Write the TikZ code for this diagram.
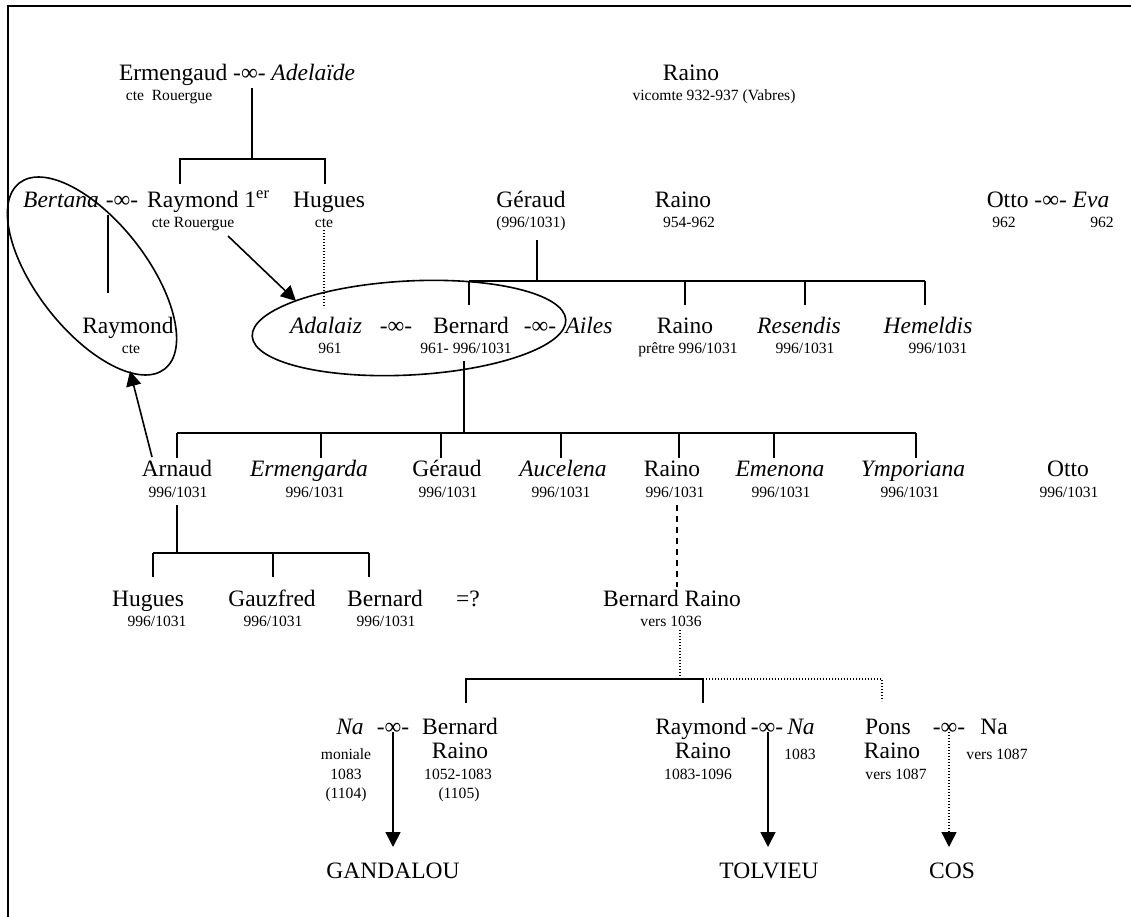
\documentclass[tikz,border=0pt]{standalone}
\usepackage{fontspec}
\setmainfont{Liberation Serif}
\usetikzlibrary{arrows.meta}
\newcommand\bigtxt{\fontsize{23.5}{28}\selectfont}
\newcommand\smalltxt{\fontsize{15.6}{18}\selectfont}
\newcommand\wed{-∞-}
\begin{document}
\begin{tikzpicture}[x=1pt,y=-1pt,
  person/.style={font=\bigtxt,inner sep=0pt,anchor=base},
  info/.style={font=\smalltxt,inner sep=0pt,anchor=base},
  tree/.style={line width=1.6pt},
  dots/.style={line width=1.3pt,dash pattern=on 1.3pt off 1.7pt},
  dashes/.style={line width=1.5pt,dash pattern=on 6pt off 5pt},
  ring/.style={line width=1.6pt},
  tip/.style={-{Triangle[length=15pt,width=15pt]}}]
\useasboundingbox (0,0) rectangle (1131,917);
% frame
\draw[line width=2pt] (8,917) -- (8,6) -- (1131,6);

% ---------- first generation ----------
\node[person] (ermen) at (237,81) {Ermengaud \wed{} \textit{Adelaïde}};
\node[info] (ermenI) at (169,101) {cte~~Rouergue};
\node[person] (rainoA) at (691,81) {Raino};
\node[info] (rainoAI) at (714,101) {vicomte 932-937 (Vabres)};

% ---------- second generation ----------
\node[person] (bertana) at (61,208) {\textit{Bertana}};
\node[person] (wedB) at (122,208) {\wed};
\node[person,anchor=base west] (raym1) at (147,208) {Raymond 1\textsuperscript{er}};
\node[info] (raym1I) at (193,228) {cte Rouergue};
\node[person] (huguesA) at (329,208) {Hugues};
\node[info] (huguesAI) at (324,228) {cte};
\node[person] (geraudA) at (531,208) {Géraud};
\node[info] (geraudAI) at (531,228) {(996/1031)};
\node[person] (rainoB) at (683,208) {Raino};
\node[info] (rainoBI) at (689,228) {954-962};
\node[person] (otto) at (1048,208) {Otto \wed{} \textit{Eva}};
\node[info] (ottoI) at (1004,228) {962};
\node[info] (evaI) at (1102,228) {962};

% ---------- third generation ----------
\node[person] (raymC) at (128,333) {Raymond};
\node[info] (raymCI) at (131,353) {cte};
\node[person] (adal) at (326,333) {\textit{Adalaiz}};
\node[info] (adalI) at (330,353) {961};
\node[person] (wedC1) at (396,333) {\wed};
\node[person] (bern) at (471,333) {Bernard};
\node[info] (bernI) at (466,353) {961- 996/1031};
\node[person] (wedC2) at (540,333) {\wed};
\node[person] (ailes) at (589,333) {\textit{Ailes}};
\node[person] (rainoC) at (685,333) {Raino};
\node[info] (rainoCI) at (688,353) {prêtre 996/1031};
\node[person] (resendis) at (799,333) {\textit{Resendis}};
\node[info] (resendisI) at (805,353) {996/1031};
\node[person] (hemeldis) at (928,333) {\textit{Hemeldis}};
\node[info] (hemeldisI) at (938,353) {996/1031};

% ---------- fourth generation ----------
\node[person] (arnaud) at (177,476) {Arnaud};
\node[info] (arnaudI) at (178,497) {996/1031};
\node[person] (ermengarda) at (309,476) {\textit{Ermengarda}};
\node[info] (ermengardaI) at (315,497) {996/1031};
\node[person] (geraudD) at (447,476) {Géraud};
\node[info] (geraudDI) at (448,497) {996/1031};
\node[person] (aucelena) at (563,476) {\textit{Aucelena}};
\node[info] (aucelenaI) at (561,497) {996/1031};
\node[person] (rainoD) at (672,476) {Raino};
\node[info] (rainoDI) at (675,497) {996/1031};
\node[person] (emenona) at (780,476) {\textit{Emenona}};
\node[info] (emenonaI) at (781,497) {996/1031};
\node[person] (ymporiana) at (913,476) {\textit{Ymporiana}};
\node[info] (ymporianaI) at (910,497) {996/1031};
\node[person] (ottoD) at (1068,476) {Otto};
\node[info] (ottoDI) at (1069,497) {996/1031};

% ---------- fifth generation ----------
\node[person] (huguesE) at (148,606) {Hugues};
\node[info] (huguesEI) at (157,626) {996/1031};
\node[person] (gauzfred) at (272,606) {Gauzfred};
\node[info] (gauzfredI) at (273,626) {996/1031};
\node[person] (bernE) at (385,606) {Bernard};
\node[info] (bernEI) at (386,626) {996/1031};
\node[person] (query) at (468,606) {=?};
\node[person] (bRaino) at (672,606) {Bernard Raino};
\node[info] (bRainoI) at (671,626) {vers 1036};

% ---------- sixth generation ----------
\node[person] (na1) at (350,734) {\textit{Na}};
\node[info] (na1a) at (346,759) {moniale};
\node[info] (na1b) at (346,779) {1083};
\node[info] (na1c) at (346,798) {(1104)};
\node[person] (wedE1) at (393,734) {\wed};
\node[person] (bernF) at (460,734) {Bernard};
\node[person] (bernF2) at (460,758) {Raino};
\node[info] (bernFa) at (458,779) {1052-1083};
\node[info] (bernFb) at (459,798) {(1105)};
\node[person] (raymF) at (701,734) {Raymond};
\node[person] (raymF2) at (703,758) {Raino};
\node[info] (raymFa) at (698,779) {1083-1096};
\node[person] (wedE2) at (767,734) {\wed};
\node[person] (na2) at (801,734) {\textit{Na}};
\node[info] (na2a) at (800,759) {1083};
\node[person] (pons) at (888,734) {Pons};
\node[person] (pons2) at (892,758) {Raino};
\node[info] (ponsa) at (896,779) {vers 1087};
\node[person] (wedE3) at (949,734) {\wed};
\node[person] (na3) at (994,734) {Na};
\node[info] (na3a) at (997,759) {vers 1087};

% ---------- lordships ----------
\node[person] (gandalou) at (393,878) {GANDALOU};
\node[person] (tolvieu) at (769,878) {TOLVIEU};
\node[person] (cos) at (952,878) {COS};

% ---------- junction points ----------
\coordinate (e0) at (252,88);
\coordinate (e1) at (252,159);
\coordinate (eL) at (180,159);
\coordinate (eR) at (325,159);
\coordinate (eLd) at (180,184);
\coordinate (eRd) at (325,184);
\coordinate (bt0) at (108,215);
\coordinate (bt1) at (108,293);
\coordinate (hg0) at (324,230);
\coordinate (hg1) at (324,308);
\coordinate (r1a) at (228,236);
\coordinate (r1b) at (296,301);
\coordinate (g0) at (537,240);
\coordinate (g1) at (537,281);
\coordinate (gL) at (469,281);
\coordinate (gR) at (925,281);
\coordinate (b0) at (464,361);
\coordinate (b1) at (464,433);
\coordinate (bL) at (177,433);
\coordinate (bR) at (916,433);
\coordinate (ar0) at (152,457);
\coordinate (ar1) at (130,371);
\coordinate (a0) at (177,505);
\coordinate (a1) at (177,553);
\coordinate (aL) at (153,553);
\coordinate (aR) at (369,553);
\coordinate (rd0) at (677,505);
\coordinate (rd1) at (677,587);
\coordinate (br0) at (680,630);
\coordinate (br1) at (680,679);
\coordinate (brL) at (466,679);
\coordinate (brM) at (703,679);
\coordinate (brR) at (882,679);
\coordinate (s1) at (393,732);
\coordinate (t1) at (393,847);
\coordinate (s2) at (768,732);
\coordinate (t2) at (768,847);
\coordinate (s3) at (949,732);
\coordinate (t3) at (949,847);

% ---------- marriage rings ----------
\draw[ring,rotate around={-52:(92,276)}] (92,276) ellipse [x radius=118,y radius=55];
\draw[ring,rotate around={3:(409,328)}] (409,328) ellipse [x radius=157,y radius=47];

% ---------- descent lines ----------
\draw[tree] (e0) -- (e1);
\draw[tree] (eLd) -- (eL) -- (eR) -- (eRd);
\draw[tree] (bt0) -- (bt1);
\draw[dots] (hg0) -- (hg1);
\draw[tree,tip] (r1a) -- (r1b);

\draw[tree] (g0) -- (g1);
\draw[tree] (gL) -- (gR);
\foreach \x in {469,685,805,925} \draw[tree] (\x,281) -- (\x,305);

\draw[tree] (b0) -- (b1);
\draw[tree] (bL) -- (bR);
\foreach \x in {177,321,441,561,679,774,916} \draw[tree] (\x,433) -- (\x,458);
\draw[tree,tip] (ar0) -- (ar1);

\draw[tree] (a0) -- (a1);
\draw[tree] (aL) -- (aR);
\foreach \x in {153,273,369} \draw[tree] (\x,553) -- (\x,577);

\draw[dashes] (rd0) -- (rd1);
\draw[dots] (br0) -- (br1);
\draw[tree] (brL |- 0,703) -- (brL) -- (brM) -- (brM |- 0,703);
\draw[dots] (brM) -- (brR) -- (brR |- 0,701);

% ---------- branches to lordships ----------
\draw[tree,tip] (s1) -- (t1);
\draw[tree,tip] (s2) -- (t2);
\draw[dots,tip] (s3) -- (t3);
\end{tikzpicture}
\end{document}
